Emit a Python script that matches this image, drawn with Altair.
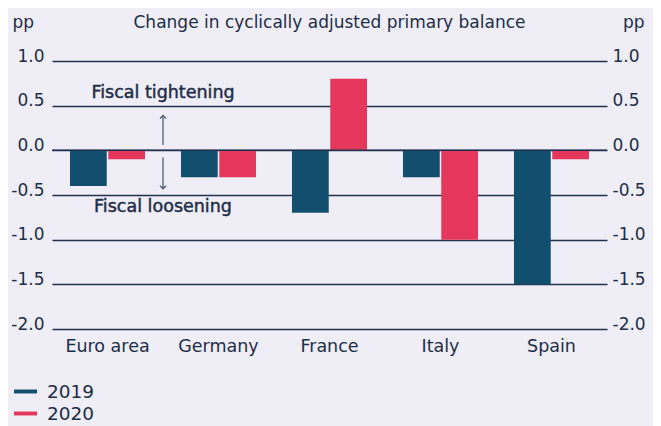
import altair as alt
import pandas as pd

countries = ["Euro area", "Germany", "France", "Italy", "Spain"]
v2019 = [-0.40, -0.30, -0.70, -0.30, -1.50]
v2020 = [-0.10, -0.30, 0.80, -1.00, -0.10]
years = ["2019", "2020"]
colors = ["#124f6e", "#e5375b"]
y_ticks = [1.0, 0.5, 0.0, -0.5, -1.0, -1.5, -2.0]
title_text = "Change in cyclically adjusted primary balance"

TXT = "#1e2d48"
FONT = "DejaVu Sans"
BG = "#efedf6"

rows = []
for c, a, b in zip(countries, v2019, v2020):
    rows.append({"country": c, "year": "2019", "value": a})
    rows.append({"country": c, "year": "2020", "value": b})
df = pd.DataFrame(rows)

label_expr = "replace(format(datum.value, '.1f'), '\u2212', '-')"

W = 555
PAD_OUT = 0.162
xscale = alt.Scale(domain=countries, paddingInner=0.324, paddingOuter=PAD_OUT)
yscale = alt.Scale(domain=[-2.0, 1.0], nice=False, zero=False)
half_gap = PAD_OUT * W / len(countries)  # from band end to step boundary

bars = alt.Chart(df).mark_bar().encode(
    x=alt.X("country:N", scale=xscale, sort=countries,
            axis=alt.Axis(title=None, labelAngle=0, domain=False, ticks=False,
                          labelFontSize=17.5, labelColor=TXT, labelFont=FONT,
                          labelPadding=8, labelBaseline="top")),
    xOffset=alt.XOffset("year:N", scale=alt.Scale(paddingInner=0.04, paddingOuter=0)),
    y=alt.Y("value:Q", scale=yscale,
            axis=alt.Axis(values=y_ticks, labelExpr=label_expr, orient="left",
                          domain=False, ticks=False, grid=True, gridColor="#22324f",
                          gridWidth=1.5, gridOpacity=1,
                          labelFontSize=17, labelColor=TXT, labelFont=FONT,
                          labelAlign="right", labelBaseline="alphabetic", labelPadding=8,
                          title="pp", titleAngle=0, titleAlign="left",
                          titleBaseline="alphabetic", titleX=-40, titleY=-34,
                          titleFontSize=17, titleFontWeight="normal",
                          titleColor=TXT, titleFont=FONT)),
    color=alt.Color("year:N", scale=alt.Scale(domain=years, range=colors),
                    legend=alt.Legend(title=None, orient="none", legendX=-38, legendY=319,
                                      symbolType="M-1,-0.17L1,-0.17L1,0.17L-1,0.17Z",
                                      symbolSize=529, symbolStrokeWidth=0,
                                      symbolOpacity=1,
                                      labelFontSize=18.5, labelColor=TXT, labelFont=FONT,
                                      labelOffset=10, rowPadding=1, padding=0)),
)

right_axis = alt.Chart(pd.DataFrame({"v": y_ticks})).mark_point(opacity=0).encode(
    y=alt.Y("v:Q", scale=yscale,
            axis=alt.Axis(values=y_ticks, labelExpr=label_expr, orient="right",
                          domain=False, ticks=False, grid=False,
                          labelFontSize=17, labelColor=TXT, labelFont=FONT,
                          labelAlign="left", labelBaseline="alphabetic", labelPadding=5,
                          title="pp", titleAngle=0, titleAlign="right",
                          titleBaseline="alphabetic", titleX=37, titleY=-34,
                          titleFontSize=17, titleFontWeight="normal",
                          titleColor=TXT, titleFont=FONT)),
)

zero = alt.Chart(pd.DataFrame({"z": [0.0]})).mark_rule(color="#22324f", strokeWidth=1.5).encode(
    y=alt.Y("z:Q", scale=yscale, axis=None)
)

ann_text = pd.DataFrame({
    "country": ["Euro area", "Euro area"],
    "y": [0.585, -0.69],
    "label": ["Fiscal tightening", "Fiscal loosening"],
})
ann = alt.Chart(ann_text).mark_text(fontSize=17.5, color=TXT, font=FONT,
                                    stroke=TXT, strokeWidth=0.45,
                                    baseline="alphabetic", align="center",
                                    xOffset=half_gap).encode(
    x=alt.X("country:N", scale=xscale, sort=countries, bandPosition=1),
    y=alt.Y("y:Q", scale=yscale, axis=None),
    text="label:N",
)

arrows = pd.DataFrame({
    "country": ["Euro area", "Euro area"],
    "y1": [0.06, -0.08],
    "y2": [0.39, -0.43],
})
arrow_lines = alt.Chart(arrows).mark_rule(color="#4f5b70", strokeWidth=1.3,
                                          xOffset=half_gap).encode(
    x=alt.X("country:N", scale=xscale, sort=countries, bandPosition=1),
    y=alt.Y("y1:Q", scale=yscale, axis=None),
    y2="y2:Q",
)
heads = pd.DataFrame({
    "country": ["Euro area", "Euro area"],
    "y": [0.39, -0.43],
    "shape": ["M-1,1L0,0L1,1", "M-1,-1L0,0L1,-1"],
})
arrow_heads = alt.Chart(heads).mark_point(filled=False, color="#4f5b70", strokeWidth=1.3,
                                          size=36, opacity=1, xOffset=half_gap).encode(
    x=alt.X("country:N", scale=xscale, sort=countries, bandPosition=1),
    y=alt.Y("y:Q", scale=yscale, axis=None),
    shape=alt.Shape("shape:N", scale=None, legend=None),
)

title = alt.Chart(pd.DataFrame({"t": [title_text]})).mark_text(
    fontSize=17, color=TXT, font=FONT, baseline="alphabetic", align="center"
).encode(
    x=alt.value(W / 2), y=alt.value(-33), text="t:N"
)

chart = alt.layer(bars, zero, arrow_lines, arrow_heads, ann, title, right_axis).resolve_scale(
    y="shared"
).resolve_axis(y="independent").properties(
    width=W, height=268,
    autosize=alt.AutoSizeParams(type="none"),
    padding={"left": 44, "top": 53, "right": 46, "bottom": 97},
    background=BG,
).configure_view(stroke=None)

chart.save("out.html", embed_options={"renderer": "svg", "actions": False})
